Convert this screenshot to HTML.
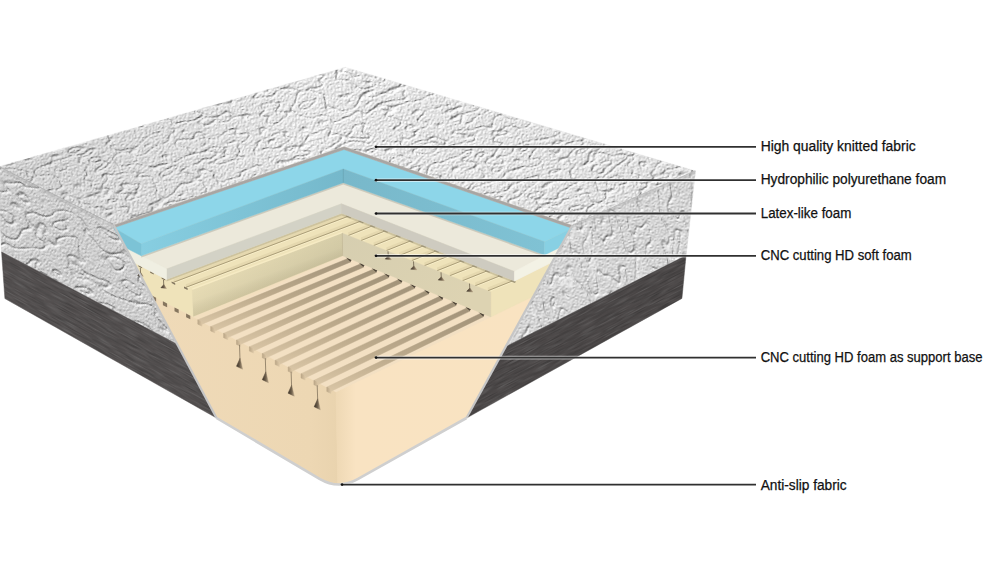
<!DOCTYPE html>
<html><head><meta charset="utf-8"><style>
html,body{margin:0;padding:0;background:#fff;overflow:hidden;width:999px;height:585px;}
svg{display:block;}
</style></head><body>
<svg width="999" height="585" viewBox="0 0 999 585">

<defs>
<filter id="embTop" x="0" y="0" width="1" height="1" filterUnits="objectBoundingBox" color-interpolation-filters="sRGB">
 <feTurbulence type="fractalNoise" baseFrequency="0.62" numOctaves="2" seed="5" result="fine"/>
 <feTurbulence type="fractalNoise" baseFrequency="0.032 0.075" numOctaves="2" seed="4" result="low"/>
 <feComponentTransfer in="low" result="lines">
   <feFuncR type="table" tableValues="1 1 1 1 1 1 1 1 0 1 1 1 1 1 1 1 1 0 1 1 1 1 1 1 1 1 1 0 1 1 1 1 1 1 1 1"/>
   <feFuncA type="linear" slope="0" intercept="1"/>
 </feComponentTransfer>
 <feGaussianBlur in="lines" stdDeviation="0.7" result="linesb"/>
 <feComposite in="fine" in2="linesb" operator="arithmetic" k1="0" k2="0.9" k3="0.3" k4="-0.1" result="h0"/>
 <feColorMatrix in="h0" type="matrix" values="1 0 0 0 0  1 0 0 0 0  1 0 0 0 0  1 0 0 0 0" result="h"/>
 <feDiffuseLighting in="h" surfaceScale="1.3" diffuseConstant="1.2" lighting-color="#eaeaea" result="lit">
   <feDistantLight azimuth="235" elevation="55"/>
 </feDiffuseLighting>
 <feComposite in="lit" in2="SourceAlpha" operator="in"/>
</filter>
<filter id="embLeft" x="0" y="0" width="1" height="1" filterUnits="objectBoundingBox" color-interpolation-filters="sRGB">
 <feTurbulence type="fractalNoise" baseFrequency="0.62" numOctaves="2" seed="8" result="fine"/>
 <feTurbulence type="fractalNoise" baseFrequency="0.025 0.05" numOctaves="2" seed="19" result="low"/>
 <feComponentTransfer in="low" result="lines">
   <feFuncR type="table" tableValues="1 1 1 1 1 1 1 1 0 1 1 1 1 1 1 1 1 0 1 1 1 1 1 1 1 1 1 0 1 1 1 1 1 1 1 1"/>
   <feFuncA type="linear" slope="0" intercept="1"/>
 </feComponentTransfer>
 <feGaussianBlur in="lines" stdDeviation="0.7" result="linesb"/>
 <feComposite in="fine" in2="linesb" operator="arithmetic" k1="0" k2="0.9" k3="0.35" k4="-0.1" result="h0"/>
 <feColorMatrix in="h0" type="matrix" values="1 0 0 0 0  1 0 0 0 0  1 0 0 0 0  1 0 0 0 0" result="h"/>
 <feDiffuseLighting in="h" surfaceScale="1.3" diffuseConstant="1.2" lighting-color="#d2d2d2" result="lit">
   <feDistantLight azimuth="215" elevation="55"/>
 </feDiffuseLighting>
 <feComposite in="lit" in2="SourceAlpha" operator="in"/>
</filter>
<filter id="embRight" x="0" y="0" width="1" height="1" filterUnits="objectBoundingBox" color-interpolation-filters="sRGB">
 <feTurbulence type="fractalNoise" baseFrequency="0.62" numOctaves="2" seed="12" result="fine"/>
 <feTurbulence type="fractalNoise" baseFrequency="0.06 0.022" numOctaves="2" seed="23" result="low"/>
 <feComponentTransfer in="low" result="lines">
   <feFuncR type="table" tableValues="1 1 1 1 1 1 1 1 0 1 1 1 1 1 1 1 1 0 1 1 1 1 1 1 1 1 1 0 1 1 1 1 1 1 1 1"/>
   <feFuncA type="linear" slope="0" intercept="1"/>
 </feComponentTransfer>
 <feGaussianBlur in="lines" stdDeviation="0.6" result="linesb"/>
 <feComposite in="fine" in2="linesb" operator="arithmetic" k1="0" k2="0.9" k3="0.3" k4="-0.1" result="h0"/>
 <feColorMatrix in="h0" type="matrix" values="1 0 0 0 0  1 0 0 0 0  1 0 0 0 0  1 0 0 0 0" result="h"/>
 <feDiffuseLighting in="h" surfaceScale="1.25" diffuseConstant="1.2" lighting-color="#d9d9d9" result="lit">
   <feDistantLight azimuth="250" elevation="55"/>
 </feDiffuseLighting>
 <feComposite in="lit" in2="SourceAlpha" operator="in"/>
</filter>
<filter id="swirl" x="0" y="0" width="1" height="1" filterUnits="objectBoundingBox" color-interpolation-filters="sRGB">
 <feTurbulence type="fractalNoise" baseFrequency="0.018 0.06" numOctaves="2" seed="4" result="n"/>
 <feColorMatrix in="n" type="matrix" values="0 0 0 0 0  0 0 0 0 0  0 0 0 0 0  1 0 0 0 0" result="a"/>
 <feComponentTransfer in="a" result="b"><feFuncA type="table" tableValues="0 0 0 0 0 0 0 0 1 0 0 0 0 0 0 0 0 1 0 0 0 0 0 0 0 0 0 1 0 0 0 0 0 0 0 0"/></feComponentTransfer>
 <feGaussianBlur in="b" stdDeviation="0.5" result="c"/>
 <feComposite in="SourceGraphic" in2="c" operator="in"/>
</filter>
<filter id="swirl2" x="0" y="0" width="1" height="1" filterUnits="objectBoundingBox" color-interpolation-filters="sRGB">
 <feTurbulence type="fractalNoise" baseFrequency="0.045 0.03" numOctaves="2" seed="17" result="n"/>
 <feColorMatrix in="n" type="matrix" values="0 0 0 0 0  0 0 0 0 0  0 0 0 0 0  1 0 0 0 0" result="a"/>
 <feComponentTransfer in="a" result="b"><feFuncA type="table" tableValues="0 0 0 0 0 0 0 0 1 0 0 0 0 0 0 0 0 1 0 0 0 0 0 0 0 0 0 1 0 0 0 0 0 0 0 0"/></feComponentTransfer>
 <feGaussianBlur in="b" stdDeviation="0.5" result="c"/>
 <feComposite in="SourceGraphic" in2="c" operator="in"/>
</filter>
<filter id="swirl3" x="0" y="0" width="1" height="1" filterUnits="objectBoundingBox" color-interpolation-filters="sRGB">
 <feTurbulence type="fractalNoise" baseFrequency="0.05 0.016" numOctaves="2" seed="23" result="n"/>
 <feColorMatrix in="n" type="matrix" values="0 0 0 0 0  0 0 0 0 0  0 0 0 0 0  1 0 0 0 0" result="a"/>
 <feComponentTransfer in="a" result="b"><feFuncA type="table" tableValues="0 0 0 0 0 0 0 0 0 1 0 0 0 0 0 0 0 0 0 0 0 0 0 0 0 1 0 0 0 0 0 0 0 0 0 0"/></feComponentTransfer>
 <feComposite in="SourceGraphic" in2="b" operator="in"/>
</filter>
<filter id="bump" x="0" y="0" width="1" height="1" filterUnits="objectBoundingBox" color-interpolation-filters="sRGB">
 <feTurbulence type="fractalNoise" baseFrequency="0.32" numOctaves="2" seed="9" result="n"/>
 <feColorMatrix in="n" type="matrix" values="0 0 0 0 0  0 0 0 0 0  0 0 0 0 0  3.0 0 0 0 -1.55" result="a0"/>
 <feGaussianBlur in="a0" stdDeviation="0.35" result="a"/>
 <feComposite in="SourceGraphic" in2="a" operator="in"/>
</filter>
<filter id="bumpw" x="0" y="0" width="1" height="1" filterUnits="objectBoundingBox" color-interpolation-filters="sRGB">
 <feTurbulence type="fractalNoise" baseFrequency="0.32" numOctaves="2" seed="21" result="n"/>
 <feColorMatrix in="n" type="matrix" values="0 0 0 0 0  0 0 0 0 0  0 0 0 0 0  3.0 0 0 0 -1.3" result="a0"/>
 <feGaussianBlur in="a0" stdDeviation="0.35" result="a"/>
 <feComposite in="SourceGraphic" in2="a" operator="in"/>
</filter>
<filter id="streak" x="0" y="0" width="1" height="1" filterUnits="objectBoundingBox" color-interpolation-filters="sRGB">
 <feTurbulence type="fractalNoise" baseFrequency="0.04 0.9" numOctaves="2" seed="7" result="n"/>
 <feColorMatrix in="n" type="matrix" values="0 0 0 0 0  0 0 0 0 0  0 0 0 0 0  2.4 0 0 0 -0.9" result="a"/>
 <feComposite in="SourceGraphic" in2="a" operator="in"/>
</filter>
<filter id="streakw" x="0" y="0" width="1" height="1" filterUnits="objectBoundingBox" color-interpolation-filters="sRGB">
 <feTurbulence type="fractalNoise" baseFrequency="0.05 0.8" numOctaves="2" seed="13" result="n"/>
 <feColorMatrix in="n" type="matrix" values="0 0 0 0 0  0 0 0 0 0  0 0 0 0 0  2.4 0 0 0 -1.1" result="a"/>
 <feComposite in="SourceGraphic" in2="a" operator="in"/>
</filter>
<linearGradient id="gLF" x1="0" y1="0" x2="1" y2="0">
 <stop offset="0" stop-color="#efdab8"/><stop offset="0.85" stop-color="#edd7b3"/><stop offset="1" stop-color="#e9d3ae"/>
</linearGradient>
<linearGradient id="gRF" x1="0" y1="0" x2="1" y2="0">
 <stop offset="0" stop-color="#eed8b4"/><stop offset="0.1" stop-color="#f9e3c2"/><stop offset="1" stop-color="#f9e3c1"/>
</linearGradient>
<linearGradient id="gGroove" x1="0" y1="0" x2="0" y2="1">
 <stop offset="0" stop-color="#a19279"/><stop offset="0.55" stop-color="#bcaa8c"/><stop offset="1" stop-color="#dac6a6"/>
</linearGradient>
<linearGradient id="gNotch" x1="0" y1="0" x2="1" y2="0">
 <stop offset="0" stop-color="#b9a586"/><stop offset="1" stop-color="#dcc7a6"/>
</linearGradient>
<linearGradient id="gKey" x1="0" y1="0" x2="1" y2="0">
 <stop offset="0" stop-color="#3a3026"/><stop offset="0.55" stop-color="#6f604c"/><stop offset="1" stop-color="#b8a487"/>
</linearGradient>
<linearGradient id="gTopShade" gradientUnits="userSpaceOnUse" x1="0" y1="0" x2="700" y2="0">
 <stop offset="0" stop-color="#000" stop-opacity="0.1"/><stop offset="0.45" stop-color="#000" stop-opacity="0"/><stop offset="1" stop-color="#000" stop-opacity="0.03"/>
</linearGradient>
<linearGradient id="gBL" gradientUnits="userSpaceOnUse" x1="141" y1="0" x2="343" y2="0">
 <stop offset="0" stop-color="#87cee1"/><stop offset="1" stop-color="#75b8cb"/>
</linearGradient>
<linearGradient id="gBR" gradientUnits="userSpaceOnUse" x1="343" y1="0" x2="545" y2="0">
 <stop offset="0" stop-color="#78b8ca"/><stop offset="1" stop-color="#80c2d4"/>
</linearGradient>
<linearGradient id="gCNCL" gradientUnits="userSpaceOnUse" x1="192" y1="0" x2="342" y2="0">
 <stop offset="0" stop-color="#e7dcb5"/><stop offset="1" stop-color="#d6cda8"/>
</linearGradient>
<linearGradient id="gCNCLv" gradientUnits="userSpaceOnUse" x1="267" y1="260.5" x2="276" y2="285">
 <stop offset="0" stop-color="#000" stop-opacity="0"/><stop offset="0.5" stop-color="#000" stop-opacity="0.02"/><stop offset="1" stop-color="#3a3010" stop-opacity="0.12"/>
</linearGradient>
<linearGradient id="gCNCR" x1="0" y1="0" x2="1" y2="0.5">
 <stop offset="0" stop-color="#d6ceb0"/><stop offset="1" stop-color="#ddd3b2"/>
</linearGradient>
</defs>
<polygon points="-1.00,166.80 345.60,67.50 695.30,171.00 572.30,225.50 344.00,146.80 113.80,225.20" fill="#e6e6e6"  stroke="#e6e6e6" stroke-width="0.45" stroke-linejoin="round"/>
<g transform="rotate(-14.00 345.00 167.13)"><polygon points="9.36,83.10 369.69,70.60 683.96,255.63 551.43,278.76 348.95,147.16 106.62,167.54" fill="#ffffff" filter="url(#embTop)"/></g>
<polygon points="-1.00,166.80 345.60,67.50 695.30,171.00 572.30,225.50 344.00,146.80 113.80,225.20" fill="url(#gTopShade)" />
<polygon points="-1.00,166.80 113.80,225.20 177.24,344.29 1.60,252.00 0.50,230.00" fill="#d3d3d3"  stroke="#d3d3d3" stroke-width="0.45" stroke-linejoin="round"/>
<g transform="rotate(28.00 58.43 243.66)"><polygon points="-30.13,203.70 98.65,201.36 210.57,276.73 12.17,277.70 0.87,258.79" fill="#ffffff" filter="url(#embLeft)"/></g>
<polygon points="-1.00,166.80 113.80,225.20 113.80,228.20 -1.00,169.80" fill="#a9a9a9" opacity="0.35"/>
<line x1="-1" y1="166.5" x2="113.8" y2="224.89999999999998" stroke="#9d9d9d" stroke-width="1" opacity="0.55"/>
<polygon points="1.60,252.00 177.24,344.29 216.50,418.00 4.90,298.50" fill="#555151"  stroke="#555151" stroke-width="0.45" stroke-linejoin="round"/>
<g transform="rotate(28.50 100.06 328.20)"><polygon points="-22.83,308.21 175.56,305.51 245.24,351.56 2.26,347.50" fill="#2a2a2a" filter="url(#streak)" opacity="0.4"/></g>
<g transform="rotate(28.50 100.06 328.20)"><polygon points="-22.83,308.21 175.56,305.51 245.24,351.56 2.26,347.50" fill="#8f8f8f" filter="url(#streakw)" opacity="0.35"/></g>
<polygon points="695.30,171.00 572.30,225.50 505.72,346.64 686.00,255.60" fill="#d9d9d9"  stroke="#d9d9d9" stroke-width="0.45" stroke-linejoin="round"/>
<g transform="rotate(-8.00 614.83 249.69)"><polygon points="705.47,182.97 576.08,219.82 493.29,330.51 684.48,265.45" fill="#ffffff" filter="url(#embRight)"/></g>
<g transform="rotate(-8.00 614.83 249.69)"><polygon points="705.47,182.97 576.08,219.82 493.29,330.51 684.48,265.45" fill="#f4f4f4" filter="url(#swirl3)" opacity="0.55"/></g>
<polygon points="695.30,171.00 572.30,225.50 572.30,228.50 695.30,174.00" fill="#a9a9a9" opacity="0.3"/>
<line x1="695.3" y1="170.7" x2="572.3" y2="225.2" stroke="#a5a5a5" stroke-width="1" opacity="0.5"/>
<polygon points="686.00,255.60 505.72,346.64 466.50,418.00 681.90,298.40" fill="#4d4949"  stroke="#4d4949" stroke-width="0.45" stroke-linejoin="round"/>
<g transform="rotate(-27.50 585.03 329.66)"><polygon points="708.79,310.59 506.84,308.10 439.10,353.29 685.39,346.66" fill="#252525" filter="url(#streak)" opacity="0.4"/></g>
<g transform="rotate(-27.50 585.03 329.66)"><polygon points="708.79,310.59 506.84,308.10 439.10,353.29 685.39,346.66" fill="#8a8a8a" filter="url(#streakw)" opacity="0.35"/></g>
<clipPath id="foamclip"><path d="M113.8,225.2 L344,146.8 L572.3,225.5 L466.5,418.0 L357.67,479.21 Q338.5,490 319.55,478.82 L216.5,418.0 Z"/></clipPath>
<path d="M113.8,225.2 L344,146.8 L572.3,225.5 L466.5,418.0 L357.67,479.21 Q338.5,490 319.55,478.82 L216.5,418.0 Z" fill="#f3dfbf" />
<g clip-path="url(#foamclip)">
<polygon points="151.26,295.52 336.00,391.90 338.00,500.00 200.00,500.00 216.50,418.00" fill="url(#gLF)"  stroke="url(#gLF)" stroke-width="0.45" stroke-linejoin="round"/>
<polygon points="336.00,391.90 533.41,296.25 466.50,418.00 480.00,500.00 338.00,500.00" fill="url(#gRF)"  stroke="url(#gRF)" stroke-width="0.45" stroke-linejoin="round"/>
</g>
<polygon points="197.80,319.80 342.60,255.80 490.80,316.90 336.00,391.90" fill="#f3e0c3"  stroke="#f3e0c3" stroke-width="0.45" stroke-linejoin="round"/>
<polygon points="197.80,319.80 348.50,258.23 350.70,261.94 200.40,324.90" fill="url(#gGroove)"  stroke="url(#gGroove)" stroke-width="0.45" stroke-linejoin="round"/>
<polygon points="197.80,319.80 202.00,322.00 202.00,326.20 197.80,324.20" fill="url(#gNotch)"  stroke="url(#gNotch)" stroke-width="0.45" stroke-linejoin="round"/>
<polygon points="345.70,257.23 351.70,259.73 350.50,261.63" fill="#2e271e" opacity="0.8"/>
<polygon points="210.70,326.53 361.40,263.55 363.60,267.26 213.30,331.63" fill="url(#gGroove)"  stroke="url(#gGroove)" stroke-width="0.45" stroke-linejoin="round"/>
<polygon points="210.70,326.53 214.90,328.73 214.90,332.93 210.70,330.93" fill="url(#gNotch)"  stroke="url(#gNotch)" stroke-width="0.45" stroke-linejoin="round"/>
<polygon points="358.60,262.55 364.60,265.05 363.40,266.95" fill="#2e271e" opacity="0.8"/>
<polygon points="223.60,333.26 374.20,268.83 376.40,272.53 226.20,338.36" fill="url(#gGroove)"  stroke="url(#gGroove)" stroke-width="0.45" stroke-linejoin="round"/>
<polygon points="223.60,333.26 227.80,335.46 227.80,339.66 223.60,337.66" fill="url(#gNotch)"  stroke="url(#gNotch)" stroke-width="0.45" stroke-linejoin="round"/>
<polygon points="371.40,267.83 377.40,270.33 376.20,272.23" fill="#2e271e" opacity="0.8"/>
<polygon points="236.50,339.99 386.60,273.94 388.80,277.65 239.10,345.09" fill="url(#gGroove)"  stroke="url(#gGroove)" stroke-width="0.45" stroke-linejoin="round"/>
<polygon points="236.50,339.99 240.70,342.19 240.70,346.39 236.50,344.39" fill="url(#gNotch)"  stroke="url(#gNotch)" stroke-width="0.45" stroke-linejoin="round"/>
<polygon points="383.80,272.94 389.80,275.44 388.60,277.34" fill="#2e271e" opacity="0.8"/>
<polygon points="249.40,346.72 399.40,279.22 401.60,282.92 252.00,351.82" fill="url(#gGroove)"  stroke="url(#gGroove)" stroke-width="0.45" stroke-linejoin="round"/>
<polygon points="249.40,346.72 253.60,348.92 253.60,353.12 249.40,351.12" fill="url(#gNotch)"  stroke="url(#gNotch)" stroke-width="0.45" stroke-linejoin="round"/>
<polygon points="396.60,278.22 402.60,280.72 401.40,282.62" fill="#2e271e" opacity="0.8"/>
<polygon points="262.30,353.45 412.60,284.66 414.80,288.36 264.90,358.55" fill="url(#gGroove)"  stroke="url(#gGroove)" stroke-width="0.45" stroke-linejoin="round"/>
<polygon points="262.30,353.45 266.50,355.65 266.50,359.85 262.30,357.85" fill="url(#gNotch)"  stroke="url(#gNotch)" stroke-width="0.45" stroke-linejoin="round"/>
<polygon points="409.80,283.66 415.80,286.16 414.60,288.06" fill="#2e271e" opacity="0.8"/>
<polygon points="275.20,360.18 426.50,290.39 428.70,294.10 277.80,365.28" fill="url(#gGroove)"  stroke="url(#gGroove)" stroke-width="0.45" stroke-linejoin="round"/>
<polygon points="275.20,360.18 279.40,362.38 279.40,366.58 275.20,364.58" fill="url(#gNotch)"  stroke="url(#gNotch)" stroke-width="0.45" stroke-linejoin="round"/>
<polygon points="423.70,289.39 429.70,291.89 428.50,293.79" fill="#2e271e" opacity="0.8"/>
<polygon points="288.10,366.91 440.30,296.08 442.50,299.78 290.70,372.01" fill="url(#gGroove)"  stroke="url(#gGroove)" stroke-width="0.45" stroke-linejoin="round"/>
<polygon points="288.10,366.91 292.30,369.11 292.30,373.31 288.10,371.31" fill="url(#gNotch)"  stroke="url(#gNotch)" stroke-width="0.45" stroke-linejoin="round"/>
<polygon points="437.50,295.08 443.50,297.58 442.30,299.48" fill="#2e271e" opacity="0.8"/>
<polygon points="301.00,373.64 454.00,301.73 456.20,305.43 303.60,378.74" fill="url(#gGroove)"  stroke="url(#gGroove)" stroke-width="0.45" stroke-linejoin="round"/>
<polygon points="301.00,373.64 305.20,375.84 305.20,380.04 301.00,378.04" fill="url(#gNotch)"  stroke="url(#gNotch)" stroke-width="0.45" stroke-linejoin="round"/>
<polygon points="451.20,300.73 457.20,303.23 456.00,305.13" fill="#2e271e" opacity="0.8"/>
<polygon points="313.90,380.37 467.80,307.42 470.00,311.12 316.50,385.47" fill="url(#gGroove)"  stroke="url(#gGroove)" stroke-width="0.45" stroke-linejoin="round"/>
<polygon points="313.90,380.37 318.10,382.57 318.10,386.77 313.90,384.77" fill="url(#gNotch)"  stroke="url(#gNotch)" stroke-width="0.45" stroke-linejoin="round"/>
<polygon points="465.00,306.42 471.00,308.92 469.80,310.82" fill="#2e271e" opacity="0.8"/>
<polygon points="326.80,387.10 481.30,312.98 483.50,316.69 329.40,392.20" fill="url(#gGroove)"  stroke="url(#gGroove)" stroke-width="0.45" stroke-linejoin="round"/>
<polygon points="326.80,387.10 331.00,389.30 331.00,393.50 326.80,391.50" fill="url(#gNotch)"  stroke="url(#gNotch)" stroke-width="0.45" stroke-linejoin="round"/>
<polygon points="478.50,311.98 484.50,314.48 483.30,316.38" fill="#2e271e" opacity="0.8"/>
<line x1="239.5" y1="344.8" x2="240.0" y2="359.8" stroke="#8f7f67" stroke-width="0.9"/>
<polygon points="240.00,358.26 236.50,366.26 242.70,369.26" fill="url(#gKey)"  stroke="url(#gKey)" stroke-width="0.45" stroke-linejoin="round"/>
<line x1="265.3" y1="358.2" x2="265.8" y2="373.2" stroke="#8f7f67" stroke-width="0.9"/>
<polygon points="265.80,371.72 262.30,379.72 268.50,382.72" fill="url(#gKey)"  stroke="url(#gKey)" stroke-width="0.45" stroke-linejoin="round"/>
<line x1="291.1" y1="371.7" x2="291.6" y2="386.7" stroke="#8f7f67" stroke-width="0.9"/>
<polygon points="291.60,385.18 288.10,393.18 294.30,396.18" fill="url(#gKey)"  stroke="url(#gKey)" stroke-width="0.45" stroke-linejoin="round"/>
<line x1="317.2" y1="385.3" x2="317.7" y2="400.3" stroke="#8f7f67" stroke-width="0.9"/>
<polygon points="317.70,398.79 314.20,406.79 320.40,409.79" fill="url(#gKey)"  stroke="url(#gKey)" stroke-width="0.45" stroke-linejoin="round"/>
<polygon points="133.49,262.17 341.70,195.00 552.18,262.11 533.41,296.25 490.80,316.90 490.80,292.00 342.30,233.20 192.20,290.00 193.30,316.50 151.26,295.52" fill="#efe3ba"  stroke="#efe3ba" stroke-width="0.45" stroke-linejoin="round"/>
<polygon points="151.90,295.60 156.10,297.80 156.10,301.40 151.90,299.40" fill="#6b5c48" opacity="0.8"/>
<polygon points="162.90,301.34 167.10,303.54 167.10,307.14 162.90,305.14" fill="#6b5c48" opacity="0.8"/>
<polygon points="174.50,307.39 178.70,309.59 178.70,313.19 174.50,311.19" fill="#6b5c48" opacity="0.8"/>
<polygon points="186.10,313.44 190.30,315.64 190.30,319.24 186.10,317.24" fill="#6b5c48" opacity="0.8"/>
<polygon points="173.44,282.33 348.76,216.07 348.76,212.87 173.44,279.13" fill="#dccfa5" opacity="0.55"/>
<line x1="173.44" y1="283.33" x2="348.76" y2="217.07" stroke="#f8eec9" stroke-width="1"/>
<line x1="173.44" y1="282.33" x2="348.76" y2="216.07" stroke="#a39570" stroke-width="0.9"/>
<polygon points="346.26,215.47 351.26,217.27 350.26,218.27 345.76,216.47" fill="#4a4232" opacity="0.7"/>
<polygon points="185.77,287.38 361.30,220.98 361.30,217.78 185.77,284.18" fill="#dccfa5" opacity="0.55"/>
<line x1="185.77" y1="288.38" x2="361.30" y2="221.98" stroke="#f8eec9" stroke-width="1"/>
<line x1="185.77" y1="287.38" x2="361.30" y2="220.98" stroke="#a39570" stroke-width="0.9"/>
<polygon points="358.80,220.38 363.80,222.18 362.80,223.18 358.30,221.38" fill="#4a4232" opacity="0.7"/>
<polygon points="348.24,235.55 373.10,225.61 373.10,222.41 348.24,232.35" fill="#dccfa5" opacity="0.55"/>
<line x1="348.24" y1="236.55" x2="373.10" y2="226.61" stroke="#f8eec9" stroke-width="1"/>
<line x1="348.24" y1="235.55" x2="373.10" y2="225.61" stroke="#a39570" stroke-width="0.9"/>
<polygon points="370.60,225.01 375.60,226.81 374.60,227.81 370.10,226.01" fill="#4a4232" opacity="0.7"/>
<polygon points="360.93,240.58 385.85,230.61 385.85,227.41 360.93,237.38" fill="#dccfa5" opacity="0.55"/>
<line x1="360.93" y1="241.58" x2="385.85" y2="231.61" stroke="#f8eec9" stroke-width="1"/>
<line x1="360.93" y1="240.58" x2="385.85" y2="230.61" stroke="#a39570" stroke-width="0.9"/>
<polygon points="383.35,230.01 388.35,231.81 387.35,232.81 382.85,231.01" fill="#4a4232" opacity="0.7"/>
<polygon points="373.61,245.60 398.60,235.61 398.60,232.41 373.61,242.40" fill="#dccfa5" opacity="0.55"/>
<line x1="373.61" y1="246.60" x2="398.60" y2="236.61" stroke="#f8eec9" stroke-width="1"/>
<line x1="373.61" y1="245.60" x2="398.60" y2="235.61" stroke="#a39570" stroke-width="0.9"/>
<polygon points="396.10,235.01 401.10,236.81 400.10,237.81 395.60,236.01" fill="#4a4232" opacity="0.7"/>
<polygon points="386.30,250.62 411.35,240.60 411.35,237.40 386.30,247.42" fill="#dccfa5" opacity="0.55"/>
<line x1="386.30" y1="251.62" x2="411.35" y2="241.60" stroke="#f8eec9" stroke-width="1"/>
<line x1="386.30" y1="250.62" x2="411.35" y2="240.60" stroke="#a39570" stroke-width="0.9"/>
<polygon points="408.85,240.00 413.85,241.80 412.85,242.80 408.35,241.00" fill="#4a4232" opacity="0.7"/>
<polygon points="398.99,255.65 424.10,245.60 424.10,242.40 398.99,252.45" fill="#dccfa5" opacity="0.55"/>
<line x1="398.99" y1="256.65" x2="424.10" y2="246.60" stroke="#f8eec9" stroke-width="1"/>
<line x1="398.99" y1="255.65" x2="424.10" y2="245.60" stroke="#a39570" stroke-width="0.9"/>
<polygon points="421.60,245.00 426.60,246.80 425.60,247.80 421.10,246.00" fill="#4a4232" opacity="0.7"/>
<polygon points="411.67,260.67 436.85,250.60 436.85,247.40 411.67,257.47" fill="#dccfa5" opacity="0.55"/>
<line x1="411.67" y1="261.67" x2="436.85" y2="251.60" stroke="#f8eec9" stroke-width="1"/>
<line x1="411.67" y1="260.67" x2="436.85" y2="250.60" stroke="#a39570" stroke-width="0.9"/>
<polygon points="434.35,250.00 439.35,251.80 438.35,252.80 433.85,251.00" fill="#4a4232" opacity="0.7"/>
<polygon points="424.36,265.69 449.60,255.60 449.60,252.40 424.36,262.49" fill="#dccfa5" opacity="0.55"/>
<line x1="424.36" y1="266.69" x2="449.60" y2="256.60" stroke="#f8eec9" stroke-width="1"/>
<line x1="424.36" y1="265.69" x2="449.60" y2="255.60" stroke="#a39570" stroke-width="0.9"/>
<polygon points="447.10,255.00 452.10,256.80 451.10,257.80 446.60,256.00" fill="#4a4232" opacity="0.7"/>
<polygon points="437.05,270.72 462.35,260.60 462.35,257.40 437.05,267.52" fill="#dccfa5" opacity="0.55"/>
<line x1="437.05" y1="271.72" x2="462.35" y2="261.60" stroke="#f8eec9" stroke-width="1"/>
<line x1="437.05" y1="270.72" x2="462.35" y2="260.60" stroke="#a39570" stroke-width="0.9"/>
<polygon points="459.85,260.00 464.85,261.80 463.85,262.80 459.35,261.00" fill="#4a4232" opacity="0.7"/>
<polygon points="449.74,275.74 475.10,265.59 475.10,262.39 449.74,272.54" fill="#dccfa5" opacity="0.55"/>
<line x1="449.74" y1="276.74" x2="475.10" y2="266.59" stroke="#f8eec9" stroke-width="1"/>
<line x1="449.74" y1="275.74" x2="475.10" y2="265.59" stroke="#a39570" stroke-width="0.9"/>
<polygon points="472.60,264.99 477.60,266.79 476.60,267.79 472.10,265.99" fill="#4a4232" opacity="0.7"/>
<polygon points="462.42,280.76 487.85,270.59 487.85,267.39 462.42,277.56" fill="#dccfa5" opacity="0.55"/>
<line x1="462.42" y1="281.76" x2="487.85" y2="271.59" stroke="#f8eec9" stroke-width="1"/>
<line x1="462.42" y1="280.76" x2="487.85" y2="270.59" stroke="#a39570" stroke-width="0.9"/>
<polygon points="485.35,269.99 490.35,271.79 489.35,272.79 484.85,270.99" fill="#4a4232" opacity="0.7"/>
<polygon points="475.11,285.79 500.60,275.59 500.60,272.39 475.11,282.59" fill="#dccfa5" opacity="0.55"/>
<line x1="475.11" y1="286.79" x2="500.60" y2="276.59" stroke="#f8eec9" stroke-width="1"/>
<line x1="475.11" y1="285.79" x2="500.60" y2="275.59" stroke="#a39570" stroke-width="0.9"/>
<polygon points="498.10,274.99 503.10,276.79 502.10,277.79 497.60,275.99" fill="#4a4232" opacity="0.7"/>
<polygon points="487.80,290.81 513.35,280.59 513.35,277.39 487.80,287.61" fill="#dccfa5" opacity="0.55"/>
<line x1="487.80" y1="291.81" x2="513.35" y2="281.59" stroke="#f8eec9" stroke-width="1"/>
<line x1="487.80" y1="290.81" x2="513.35" y2="280.59" stroke="#a39570" stroke-width="0.9"/>
<polygon points="510.85,279.99 515.85,281.79 514.85,282.79 510.35,280.99" fill="#4a4232" opacity="0.7"/>
<polygon points="166.50,279.50 341.70,213.30 514.40,281.00 514.40,283.00 341.70,215.50 166.50,281.50" fill="#b8ad8a" opacity="0.6"/>
<polygon points="192.20,290.00 342.30,233.20 342.60,255.80 193.30,316.50" fill="url(#gCNCL)"  stroke="url(#gCNCL)" stroke-width="0.45" stroke-linejoin="round"/>
<polygon points="192.20,290.00 342.30,233.20 342.60,255.80 193.30,316.50" fill="url(#gCNCLv)" />
<line x1="192.20" y1="289.20" x2="342.30" y2="232.40" stroke="#f6ebc4" stroke-width="1.4"/>
<polygon points="342.30,233.20 490.80,292.00 490.80,316.90 342.60,255.80" fill="url(#gCNCR)"  stroke="url(#gCNCR)" stroke-width="0.45" stroke-linejoin="round"/>
<line x1="342.3" y1="233.2" x2="342.6" y2="255.8" stroke="#c7bd9c" stroke-width="1"/>
<line x1="388.0" y1="251.3" x2="388.3" y2="256.8" stroke="#6a5e4a" stroke-width="0.8"/>
<polygon points="388.30,255.80 385.20,259.10 391.40,259.70" fill="url(#gKey)"  stroke="url(#gKey)" stroke-width="0.45" stroke-linejoin="round"/>
<line x1="413.5" y1="261.4" x2="413.8" y2="266.9" stroke="#6a5e4a" stroke-width="0.8"/>
<polygon points="413.80,265.89 410.70,269.19 416.90,269.79" fill="url(#gKey)"  stroke="url(#gKey)" stroke-width="0.45" stroke-linejoin="round"/>
<line x1="441.0" y1="272.3" x2="441.3" y2="277.8" stroke="#6a5e4a" stroke-width="0.8"/>
<polygon points="441.30,276.78 438.20,280.08 444.40,280.68" fill="url(#gKey)"  stroke="url(#gKey)" stroke-width="0.45" stroke-linejoin="round"/>
<line x1="469.5" y1="283.6" x2="469.8" y2="289.1" stroke="#6a5e4a" stroke-width="0.8"/>
<polygon points="469.80,288.07 466.70,291.37 472.90,291.97" fill="url(#gKey)"  stroke="url(#gKey)" stroke-width="0.45" stroke-linejoin="round"/>
<polygon points="138.50,264.85 142.10,266.64 142.10,268.35 138.50,266.55" fill="#5e5240" opacity="0.75"/>
<polygon points="150.10,270.94 153.70,272.74 153.70,274.44 150.10,272.64" fill="#5e5240" opacity="0.75"/>
<polygon points="161.70,277.03 165.30,278.82 165.30,280.53 161.70,278.73" fill="#5e5240" opacity="0.75"/>
<polygon points="171.60,281.42 175.20,283.22 175.20,284.92 171.60,283.12" fill="#5e5240" opacity="0.75"/>
<polygon points="184.00,286.49 187.60,288.29 187.60,289.99 184.00,288.19" fill="#5e5240" opacity="0.75"/>
<line x1="140.3" y1="267.7" x2="140.6" y2="273.7" stroke="#6a5e4a" stroke-width="0.8"/>
<polygon points="140.60,272.35 137.70,275.55 143.30,276.35" fill="url(#gKey)"  stroke="url(#gKey)" stroke-width="0.45" stroke-linejoin="round"/>
<line x1="163.5" y1="279.9" x2="163.8" y2="285.9" stroke="#6a5e4a" stroke-width="0.8"/>
<polygon points="163.80,284.53 160.90,287.73 166.50,288.53" fill="url(#gKey)"  stroke="url(#gKey)" stroke-width="0.45" stroke-linejoin="round"/>
<polygon points="125.20,247.50 343.60,180.00 558.20,248.20 552.18,262.11 514.40,281.00 514.40,271.50 341.40,203.80 166.50,269.00 166.50,279.50 133.49,262.17" fill="#ece9db"  stroke="#ece9db" stroke-width="0.45" stroke-linejoin="round"/>
<polygon points="166.50,269.00 341.40,203.80 341.70,213.30 166.50,279.50" fill="#d3d2c6"  stroke="#d3d2c6" stroke-width="0.45" stroke-linejoin="round"/>
<polygon points="341.40,203.80 514.40,271.50 514.40,281.00 341.70,213.30" fill="#cecbc0"  stroke="#cecbc0" stroke-width="0.45" stroke-linejoin="round"/>
<polygon points="125.20,247.50 166.50,269.00 166.50,279.50 133.49,262.17" fill="#f0efe2"  stroke="#f0efe2" stroke-width="0.45" stroke-linejoin="round"/>
<polygon points="558.20,248.20 552.18,262.11 514.40,281.00 514.40,271.50" fill="#f3f2e5"  stroke="#f3f2e5" stroke-width="0.45" stroke-linejoin="round"/>
<polygon points="141.30,255.80 343.30,182.70 544.60,255.00 544.60,256.80 343.30,184.50 141.30,257.60" fill="#b9b6a6" opacity="0.6"/>
<polygon points="113.80,227.80 344.00,149.60 572.00,228.20 544.60,241.80 343.30,169.00 141.00,243.80" fill="#8dd6e9"  stroke="#8dd6e9" stroke-width="0.45" stroke-linejoin="round"/>
<polygon points="141.00,243.80 343.30,169.00 343.30,182.70 141.30,255.80" fill="url(#gBL)"  stroke="url(#gBL)" stroke-width="0.45" stroke-linejoin="round"/>
<polygon points="343.30,169.00 544.60,241.80 544.60,255.00 343.30,182.70" fill="url(#gBR)"  stroke="url(#gBR)" stroke-width="0.45" stroke-linejoin="round"/>
<line x1="343.3" y1="169" x2="343.3" y2="182.7" stroke="#6aa8b9" stroke-width="1"/>
<polygon points="113.80,227.80 141.00,243.80 141.30,255.80 125.20,247.50" fill="#7cc3d6"  stroke="#7cc3d6" stroke-width="0.45" stroke-linejoin="round"/>
<polygon points="572.00,228.20 558.20,248.20 544.60,255.00 544.60,241.80" fill="#88d0e3"  stroke="#88d0e3" stroke-width="0.45" stroke-linejoin="round"/>
<polygon points="113.80,225.20 344.00,146.80 572.30,225.50 572.00,228.20 344.00,149.60 113.80,227.80" fill="#a8a5a3"  stroke="#a8a5a3" stroke-width="0.45" stroke-linejoin="round"/>
<polyline points="113.80,225.20 216.50,418.00" stroke="#c6c6c6" stroke-width="2.2" fill="none"/>
<polyline points="572.30,225.50 466.50,418.00" stroke="#c6c6c6" stroke-width="2.2" fill="none"/>
<path d="M216.5,418.0 L319.55,478.82 Q338.5,490 357.67,479.21 L466.5,418.0" stroke="#cfcfcf" stroke-width="2.6" fill="none"/>
<line x1="375" y1="146.8" x2="756" y2="146.8" stroke="#ffffff" stroke-width="3.6" opacity="0.55"/>
<line x1="376" y1="146.8" x2="756" y2="146.8" stroke="#303030" stroke-width="1.8"/>
<circle cx="376" cy="146.8" r="1.35" fill="#111"/>
<text x="760.7" y="151.3" textLength="155" lengthAdjust="spacingAndGlyphs" font-family="Liberation Sans" font-size="14" fill="#111" stroke="#111" stroke-width="0.25">High quality knitted fabric</text>
<line x1="375" y1="180.2" x2="756" y2="180.2" stroke="#ffffff" stroke-width="3.6" opacity="0.55"/>
<line x1="376" y1="180.2" x2="756" y2="180.2" stroke="#303030" stroke-width="1.8"/>
<circle cx="376" cy="180.2" r="1.35" fill="#111"/>
<text x="760.7" y="184.4" textLength="185.4" lengthAdjust="spacingAndGlyphs" font-family="Liberation Sans" font-size="14" fill="#111" stroke="#111" stroke-width="0.25">Hydrophilic polyurethane foam</text>
<line x1="375" y1="213.5" x2="756" y2="213.5" stroke="#ffffff" stroke-width="3.6" opacity="0.55"/>
<line x1="376" y1="213.5" x2="756" y2="213.5" stroke="#303030" stroke-width="1.8"/>
<circle cx="376" cy="213.5" r="1.35" fill="#111"/>
<text x="760.7" y="218.2" textLength="90.7" lengthAdjust="spacingAndGlyphs" font-family="Liberation Sans" font-size="14" fill="#111" stroke="#111" stroke-width="0.25">Latex-like foam</text>
<line x1="375" y1="255.8" x2="756" y2="255.8" stroke="#ffffff" stroke-width="3.6" opacity="0.55"/>
<line x1="376" y1="255.8" x2="756" y2="255.8" stroke="#303030" stroke-width="1.8"/>
<circle cx="376" cy="255.8" r="1.35" fill="#111"/>
<text x="760.7" y="260.2" textLength="151" lengthAdjust="spacingAndGlyphs" font-family="Liberation Sans" font-size="14" fill="#111" stroke="#111" stroke-width="0.25">CNC cutting HD soft foam</text>
<line x1="375" y1="357.6" x2="756" y2="357.6" stroke="#ffffff" stroke-width="3.6" opacity="0.55"/>
<line x1="376" y1="357.6" x2="756" y2="357.6" stroke="#303030" stroke-width="1.8"/>
<circle cx="376" cy="357.6" r="1.35" fill="#111"/>
<text x="760.7" y="362" textLength="221.8" lengthAdjust="spacingAndGlyphs" font-family="Liberation Sans" font-size="14" fill="#111" stroke="#111" stroke-width="0.25">CNC cutting HD foam as support base</text>
<line x1="341" y1="484.6" x2="756" y2="484.6" stroke="#ffffff" stroke-width="3.6" opacity="0.55"/>
<line x1="342" y1="484.6" x2="756" y2="484.6" stroke="#303030" stroke-width="1.8"/>
<circle cx="342" cy="484.6" r="1.35" fill="#111"/>
<text x="760.7" y="489.9" textLength="86" lengthAdjust="spacingAndGlyphs" font-family="Liberation Sans" font-size="14" fill="#111" stroke="#111" stroke-width="0.25">Anti-slip fabric</text>
</svg></body></html>
